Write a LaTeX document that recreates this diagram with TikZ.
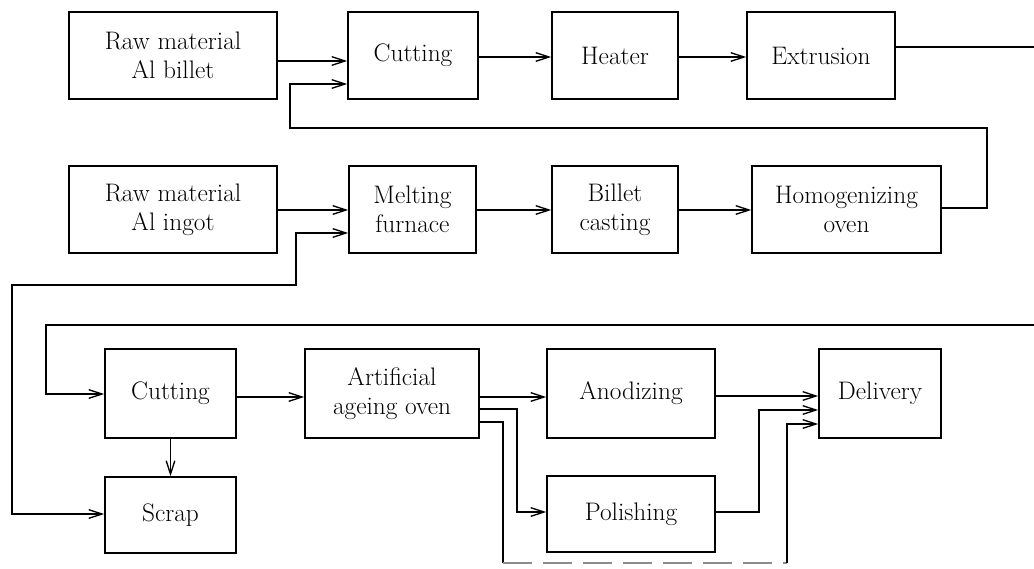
\documentclass[tikz,border=0pt]{standalone}
\usetikzlibrary{arrows.meta}
\begin{document}
\begin{tikzpicture}[x=0.75pt,y=-0.75pt,
  box/.style={draw=black,line width=1.2pt,inner sep=0pt,align=center,
    font=\fontsize{19}{21.5}\selectfont,minimum height=65.25pt},
  link/.style={line width=1.1pt,line join=miter},
  tip/.tip={Straight Barb[length=10pt,width=6.5pt,line width=1pt]},
  arr/.style={link,-tip},
  arrs/.style={link,tip-tip},
  faint/.style={line width=1.1pt,draw=black!45,dash pattern=on 22pt off 8pt}]
\useasboundingbox (0,0) rectangle (1034,568);

% first row: billet route
\node[box,minimum width=156pt] (rb) at (173,55.5) {Raw material\\Al billet};
\node[box,minimum width=97.5pt] (cut1) at (413,55.5) {Cutting};
\node[box,minimum width=94.5pt] (heat) at (615,55.5) {Heater};
\node[box,minimum width=111pt] (extr) at (821,55.5) {Extrusion};

% second row: casting route
\node[box,minimum width=156pt] (ri) at (173,209.5) {Raw material\\Al ingot};
\node[box,minimum width=95.25pt] (melt) at (412.5,209.5) {Melting\\furnace};
\node[box,minimum width=94.5pt] (bc) at (615,209.5) {Billet\\casting};
\node[box,minimum width=141.75pt] (hom) at (846.5,209.5) {Homogenizing\\oven};

% third row: finishing
\node[box,minimum width=98.25pt,minimum height=66.75pt] (cut2) at (170.5,393.5) {Cutting};
\node[box,minimum width=98.25pt,minimum height=57pt] (scrap) at (170.5,515) {Scrap};
\node[box,minimum width=130.5pt,minimum height=66.75pt] (age) at (392,393.5) {Artificial\\ageing oven};
\node[box,minimum width=126pt,minimum height=66.75pt] (anod) at (631,393.5) {Anodizing};
\node[box,minimum width=126pt,minimum height=57pt] (pol) at (631,514) {Polishing};
\node[box,minimum width=91.5pt,minimum height=66.75pt] (deliv) at (880,393.5) {Delivery};

% free ends at the right border
\coordinate (eout) at (1034,47);
\coordinate (ein) at (1034,325);

% first row connectors
\draw[arr] (rb.east |- 0,61) -- (cut1.west |- 0,61);
\draw[arr] (cut1.east |- 0,57) -- (heat.west |- 0,57);
\draw[arr] (heat.east |- 0,57) -- (extr.west |- 0,57);
\draw[link] (extr.east |- 0,47) -- (eout);

% homogenized billets back to cutting
\draw[arr] (hom.east |- 0,208) -- (987,208) -- (987,128) -- (290,128) -- (290,84) -- (cut1.west |- 0,84);

% second row connectors
\draw[arr] (ri.east |- 0,210) -- (melt.west |- 0,210);
\draw[arr] (melt.east |- 0,210) -- (bc.west |- 0,210);
\draw[arr] (bc.east |- 0,210) -- (hom.west |- 0,210);

% line between scrap and the furnace
\draw[arrs] (scrap.west |- 0,514) -- (12,514) -- (12,285) -- (296,285) -- (296,233) -- (melt.west |- 0,233);

% extruded profiles into the finishing line
\draw[arr] (ein) -- (46,325) -- (46,394) -- (cut2.west |- 0,394);
\draw[arr] (cut2.south |- 0,438) -- (scrap.north);
\draw[arr] (cut2.east |- 0,397) -- (age.west |- 0,397);

% ageing oven outlets
\draw[arr] (age.east |- 0,397) -- (anod.west |- 0,397);
\draw[arr] (age.east |- 0,409) -- (517,409) -- (517,512) -- (pol.west |- 0,512);
\draw[link] (age.east |- 0,422) -- (503,422) -- (503,563);
\draw[faint] (503,563) -- (787,563);
\draw[arr] (787,563) -- (787,424) -- (deliv.west |- 0,424);

% into delivery
\draw[arr] (anod.east |- 0,396) -- (deliv.west |- 0,396);
\draw[arr] (pol.east |- 0,512) -- (759,512) -- (759,410) -- (deliv.west |- 0,410);
\end{tikzpicture}
\end{document}
